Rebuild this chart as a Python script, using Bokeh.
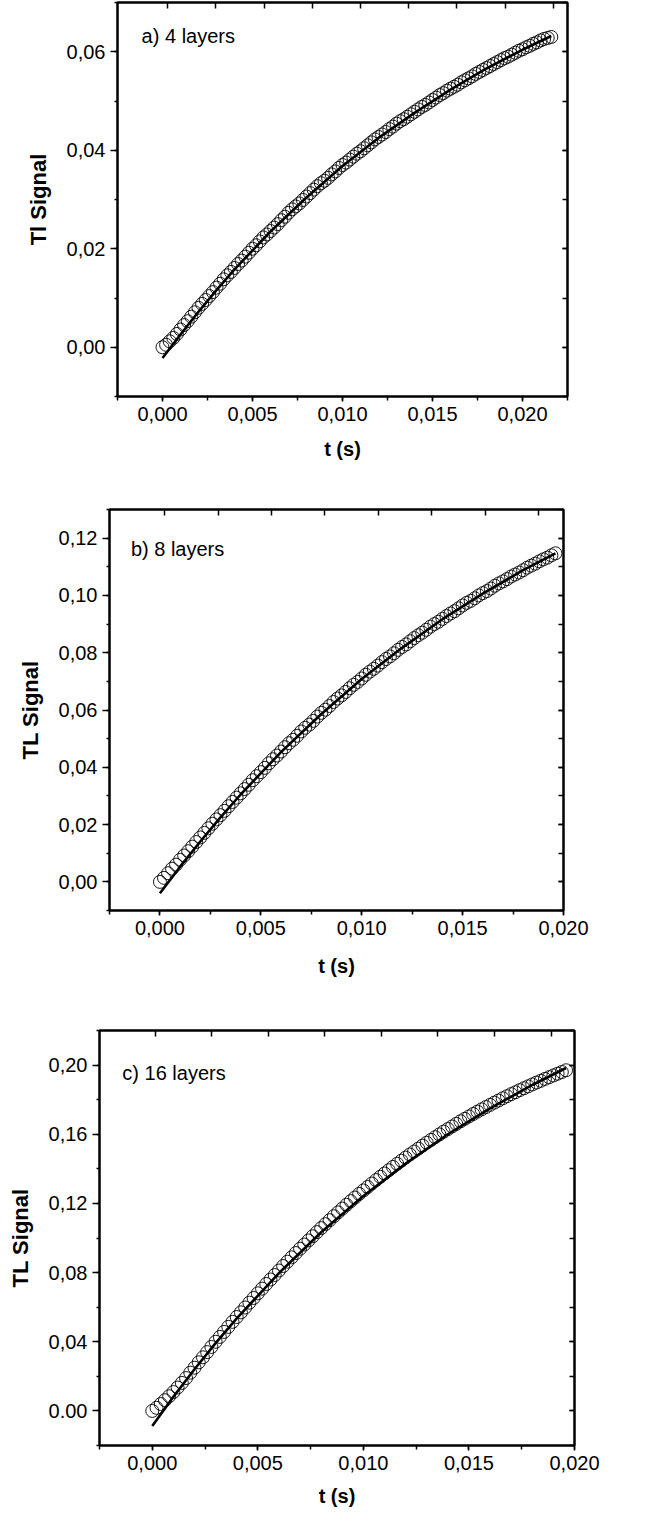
from bokeh.plotting import figure
from bokeh.models import (Range1d, LinearAxis, SingleIntervalTicker, FixedTicker,
                          CustomJSTickFormatter, Label)
from bokeh.embed import file_html
from bokeh.resources import INLINE

FONT = "Liberation Sans"

# ---------------- data ----------------
# panel a) 4 layers
T_A = [0.0000, 0.0002, 0.0004, 0.0006, 0.0008, 0.0010, 0.0012, 0.0014, 0.0016, 0.0018,
       0.0020, 0.0022, 0.0024, 0.0026, 0.0028, 0.0030, 0.0032, 0.0034, 0.0036, 0.0038,
       0.0040, 0.0042, 0.0044, 0.0046, 0.0048, 0.0050, 0.0052, 0.0054, 0.0056, 0.0058,
       0.0060, 0.0062, 0.0064, 0.0066, 0.0068, 0.0070, 0.0072, 0.0074, 0.0076, 0.0078,
       0.0080, 0.0082, 0.0084, 0.0086, 0.0088, 0.0090, 0.0092, 0.0094, 0.0096, 0.0098,
       0.0100, 0.0102, 0.0104, 0.0106, 0.0108, 0.0110, 0.0112, 0.0114, 0.0116, 0.0118,
       0.0120, 0.0122, 0.0124, 0.0126, 0.0128, 0.0130, 0.0132, 0.0134, 0.0136, 0.0138,
       0.0140, 0.0142, 0.0144, 0.0146, 0.0148, 0.0150, 0.0152, 0.0154, 0.0156, 0.0158,
       0.0160, 0.0162, 0.0164, 0.0166, 0.0168, 0.0170, 0.0172, 0.0174, 0.0176, 0.0178,
       0.0180, 0.0182, 0.0184, 0.0186, 0.0188, 0.0190, 0.0192, 0.0194, 0.0196, 0.0198,
       0.0200, 0.0202, 0.0204, 0.0206, 0.0208, 0.0210, 0.0212, 0.0214, 0.0216]
Y_A = [0.0000, 0.0005, 0.0012, 0.0019, 0.0027, 0.0036, 0.0045, 0.0053, 0.0062, 0.0071,
       0.0080, 0.0088, 0.0096, 0.0104, 0.0112, 0.0121, 0.0129, 0.0138, 0.0146, 0.0153,
       0.0161, 0.0169, 0.0176, 0.0184, 0.0192, 0.0200, 0.0207, 0.0215, 0.0223, 0.0229,
       0.0236, 0.0243, 0.0250, 0.0258, 0.0265, 0.0273, 0.0280, 0.0286, 0.0292, 0.0299,
       0.0306, 0.0313, 0.0320, 0.0327, 0.0333, 0.0338, 0.0344, 0.0351, 0.0357, 0.0364,
       0.0370, 0.0375, 0.0381, 0.0387, 0.0393, 0.0398, 0.0404, 0.0410, 0.0416, 0.0422,
       0.0427, 0.0432, 0.0437, 0.0443, 0.0448, 0.0454, 0.0459, 0.0463, 0.0468, 0.0473,
       0.0478, 0.0483, 0.0488, 0.0492, 0.0497, 0.0502, 0.0507, 0.0512, 0.0516, 0.0521,
       0.0525, 0.0529, 0.0533, 0.0538, 0.0542, 0.0546, 0.0550, 0.0555, 0.0559, 0.0563,
       0.0567, 0.0571, 0.0575, 0.0579, 0.0583, 0.0587, 0.0590, 0.0594, 0.0598, 0.0602,
       0.0605, 0.0609, 0.0612, 0.0616, 0.0619, 0.0623, 0.0626, 0.0628, 0.0630]
FIT_T_A = [0.0, 0.001, 0.002, 0.003, 0.004, 0.006, 0.008, 0.010, 0.012, 0.014, 0.016,
           0.018, 0.020, 0.0216]
FIT_Y_A = [-0.0022, 0.0026, 0.0072, 0.0116, 0.0158, 0.0235, 0.0304, 0.0368, 0.0425,
           0.0476, 0.0523, 0.0566, 0.0604, 0.0632]

# panel b) 8 layers
T_B = [0.0000, 0.0002, 0.0004, 0.0006, 0.0008, 0.0010, 0.0012, 0.0014, 0.0016, 0.0018,
       0.0020, 0.0022, 0.0024, 0.0026, 0.0028, 0.0030, 0.0032, 0.0034, 0.0036, 0.0038,
       0.0040, 0.0042, 0.0044, 0.0046, 0.0048, 0.0050, 0.0052, 0.0054, 0.0056, 0.0058,
       0.0060, 0.0062, 0.0064, 0.0066, 0.0068, 0.0070, 0.0072, 0.0074, 0.0076, 0.0078,
       0.0080, 0.0082, 0.0084, 0.0086, 0.0088, 0.0090, 0.0092, 0.0094, 0.0096, 0.0098,
       0.0100, 0.0102, 0.0104, 0.0106, 0.0108, 0.0110, 0.0112, 0.0114, 0.0116, 0.0118,
       0.0120, 0.0122, 0.0124, 0.0126, 0.0128, 0.0130, 0.0132, 0.0134, 0.0136, 0.0138,
       0.0140, 0.0142, 0.0144, 0.0146, 0.0148, 0.0150, 0.0152, 0.0154, 0.0156, 0.0158,
       0.0160, 0.0162, 0.0164, 0.0166, 0.0168, 0.0170, 0.0172, 0.0174, 0.0176, 0.0178,
       0.0180, 0.0182, 0.0184, 0.0186, 0.0188, 0.0190, 0.0192, 0.0194, 0.0196]
Y_B = [0.0000, 0.0014, 0.0030, 0.0046, 0.0060, 0.0077, 0.0092, 0.0107, 0.0123, 0.0139,
       0.0155, 0.0171, 0.0187, 0.0203, 0.0218, 0.0233, 0.0248, 0.0264, 0.0279, 0.0294,
       0.0309, 0.0324, 0.0339, 0.0355, 0.0369, 0.0383, 0.0398, 0.0414, 0.0428, 0.0441,
       0.0455, 0.0470, 0.0484, 0.0496, 0.0510, 0.0525, 0.0538, 0.0549, 0.0562, 0.0577,
       0.0590, 0.0601, 0.0614, 0.0628, 0.0640, 0.0651, 0.0663, 0.0676, 0.0688, 0.0698,
       0.0710, 0.0723, 0.0734, 0.0744, 0.0755, 0.0767, 0.0778, 0.0787, 0.0798, 0.0810,
       0.0820, 0.0829, 0.0840, 0.0851, 0.0861, 0.0870, 0.0880, 0.0891, 0.0900, 0.0908,
       0.0918, 0.0928, 0.0937, 0.0945, 0.0955, 0.0965, 0.0974, 0.0981, 0.0990, 0.1000,
       0.1008, 0.1015, 0.1024, 0.1034, 0.1042, 0.1049, 0.1057, 0.1066, 0.1073, 0.1080,
       0.1088, 0.1097, 0.1104, 0.1111, 0.1119, 0.1126, 0.1132, 0.1140, 0.1147]
FIT_T_B = [0.0, 0.001, 0.002, 0.003, 0.004, 0.006, 0.008, 0.010, 0.012, 0.014, 0.016,
           0.018, 0.0196]
FIT_Y_B = [-0.0040, 0.0053, 0.0141, 0.0225, 0.0305, 0.0453, 0.0586, 0.0708, 0.0817,
           0.0917, 0.1006, 0.1088, 0.1147]

# panel c) 16 layers
T_C = list(T_B)
Y_C = [0.0000, 0.0018, 0.0040, 0.0062, 0.0085, 0.0109, 0.0135, 0.0162, 0.0190, 0.0221,
       0.0250, 0.0281, 0.0310, 0.0340, 0.0370, 0.0400, 0.0428, 0.0457, 0.0486, 0.0515,
       0.0543, 0.0570, 0.0598, 0.0626, 0.0653, 0.0680, 0.0707, 0.0734, 0.0760, 0.0786,
       0.0812, 0.0838, 0.0863, 0.0888, 0.0913, 0.0938, 0.0962, 0.0986, 0.1010, 0.1034,
       0.1057, 0.1080, 0.1103, 0.1126, 0.1148, 0.1170, 0.1192, 0.1213, 0.1234, 0.1255,
       0.1275, 0.1295, 0.1315, 0.1335, 0.1354, 0.1373, 0.1392, 0.1411, 0.1429, 0.1447,
       0.1465, 0.1483, 0.1500, 0.1517, 0.1534, 0.1551, 0.1567, 0.1583, 0.1599, 0.1615,
       0.1630, 0.1645, 0.1660, 0.1675, 0.1689, 0.1703, 0.1717, 0.1731, 0.1744, 0.1757,
       0.1770, 0.1783, 0.1795, 0.1808, 0.1820, 0.1832, 0.1843, 0.1855, 0.1866, 0.1877,
       0.1888, 0.1899, 0.1909, 0.1920, 0.1930, 0.1940, 0.1950, 0.1960, 0.1970]
FIT_T_C = [0.0, 0.001, 0.002, 0.003, 0.004, 0.006, 0.008, 0.010, 0.012, 0.014, 0.016,
           0.018, 0.0196]
FIT_Y_C = [-0.0087, 0.0082, 0.0241, 0.0392, 0.0535, 0.0797, 0.1033, 0.1243, 0.1431,
           0.1600, 0.1750, 0.1885, 0.1983]

# top-axis (mirror) tick positions, in bottom-axis units
TOP_A = [0.00028, 0.00296, 0.00564, 0.00831, 0.01099, 0.01367, 0.01635, 0.01903, 0.02171]
TOP_B = [0.00025, 0.00289, 0.00553, 0.00818, 0.01082, 0.01347, 0.01611, 0.01875]
TOP_C = [0.00014, 0.00282, 0.00550, 0.00818, 0.01085, 0.01353, 0.01621, 0.01889]

LABELS = ["a) 4 layers", "b) 8 layers", "c) 16 layers"]
YLABELS = ["Tl Signal", "TL Signal", "TL Signal"]
XLABEL = "t (s)"
# the lowest y label of panel c is printed with a point in the original
ZERO_LABEL_C = "0.00"


def fmt(dec, zero=None):
    z = "" if zero is None else "if (v === 0) { return '%s'; }" % zero
    return CustomJSTickFormatter(code=(
        "var v = Math.abs(tick) < 1e-9 ? 0 : tick;" + z +
        "return v.toFixed(%d).replace('.', ',');" % dec))


EMPTY = "return '';"


def panel(T, Y, FT, FY, top_ticks, label, ylabel, xr, yr, yint, height,
          mb, lab_pos, xstand, zero=None):
    left, right, top, bottom = mb
    p = figure(width=641, height=height, x_range=Range1d(*xr), y_range=Range1d(*yr),
               output_backend="svg", toolbar_location=None,
               min_border_left=left, min_border_right=right,
               min_border_top=top, min_border_bottom=bottom)
    p.grid.visible = False
    p.outline_line_color = "black"
    p.outline_line_width = 2
    p.background_fill_color = "white"
    p.border_fill_color = "white"

    xa = p.xaxis[0]
    xa.ticker = SingleIntervalTicker(interval=0.005, num_minor_ticks=2)
    xa.formatter = fmt(3)
    ya = p.yaxis[0]
    ya.ticker = SingleIntervalTicker(interval=yint, num_minor_ticks=2)
    ya.formatter = fmt(2, zero)
    for ax in (xa, ya):
        ax.axis_line_width = 2
        ax.major_tick_line_width = 1.5
        ax.minor_tick_line_width = 1.5
        ax.major_tick_in = 0
        ax.minor_tick_in = 0
        ax.major_label_text_font = FONT
        ax.major_label_text_font_size = "20px"
        ax.major_label_text_color = "black"
        ax.axis_label_text_font = FONT
        ax.axis_label_text_font_style = "bold"
        ax.axis_label_text_color = "black"
        ax.major_label_standoff = 5
    xa.axis_label_text_font_size = "20px"
    ya.axis_label_text_font_size = "22px"
    xa.major_tick_out = 5
    xa.minor_tick_out = 4
    ya.major_tick_out = 7
    ya.minor_tick_out = 3
    xa.axis_label = XLABEL
    xa.axis_label_standoff = xstand
    ya.axis_label = ylabel
    ya.axis_label_standoff = 13

    ra = LinearAxis(ticker=SingleIntervalTicker(interval=yint, num_minor_ticks=2),
                    formatter=CustomJSTickFormatter(code=EMPTY),
                    major_tick_in=5, major_tick_out=0, minor_tick_in=5, minor_tick_out=0,
                    axis_line_width=2, major_tick_line_width=1.5,
                    minor_tick_line_width=1.5, major_label_standoff=0)
    p.add_layout(ra, "right")
    ta = LinearAxis(ticker=FixedTicker(ticks=top_ticks),
                    formatter=CustomJSTickFormatter(code=EMPTY),
                    major_tick_in=6, major_tick_out=0, minor_tick_in=0, minor_tick_out=0,
                    axis_line_width=2, major_tick_line_width=1.5, major_label_standoff=0)
    p.add_layout(ta, "above")

    p.scatter(T, Y, marker="circle", size=13, fill_color=None, line_color="black",
              line_width=0.9)
    p.line(FT, FY, line_color="black", line_width=2.6)

    p.add_layout(Label(x=lab_pos[0], y=lab_pos[1], text=label, text_font=FONT,
                       text_font_size="20px", text_baseline="middle",
                       text_color="black"))
    return p


pa = panel(T_A, Y_A, FIT_T_A, FIT_Y_A, TOP_A, LABELS[0], YLABELS[0],
           (-0.0025, 0.0225), (-0.01, 0.07), 0.02, 462, (117, 74, 2, 66),
           (-0.00116, 0.0631), 14)
pb = panel(T_B, Y_B, FIT_T_B, FIT_Y_B, TOP_B, LABELS[1], YLABELS[1],
           (-0.0025, 0.020), (-0.01, 0.13), 0.02, 530, (109, 78, 47, 82),
           (-0.00144, 0.1161), 17)
pc = panel(T_C, Y_C, FIT_T_C, FIT_Y_C, TOP_C, LABELS[2], YLABELS[2],
           (-0.0025, 0.020), (-0.02, 0.22), 0.04, 520, (99, 67, 38, 67),
           (-0.00142, 0.1954), 12, zero=ZERO_LABEL_C)

# separate roots so that the three frames are not forced into alignment
open("out.html", "w").write(file_html([pa, pb, pc], INLINE))
